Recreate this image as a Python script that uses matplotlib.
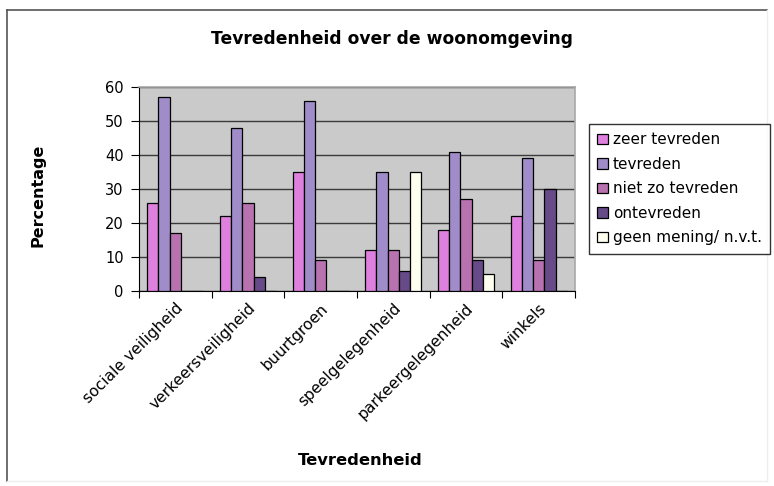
import matplotlib
matplotlib.use("Agg")
import matplotlib.pyplot as plt
from matplotlib.lines import Line2D
import numpy as np

categories = ["sociale veiligheid", "verkeersveiligheid", "buurtgroen",
              "speelgelegenheid", "parkeergelegenheid", "winkels"]
series_names = ["zeer tevreden", "tevreden", "niet zo tevreden",
                "ontevreden", "geen mening/ n.v.t."]
zeer_tevreden = [26, 22, 35, 12, 18, 22]
tevreden = [57, 48, 56, 35, 41, 39]
niet_zo_tevreden = [17, 26, 9, 12, 27, 9]
ontevreden = [0, 4, 0, 6, 9, 30]
geen_mening = [0, 0, 0, 35, 5, 0]
yticks = [0, 10, 20, 30, 40, 50, 60]

series = [zeer_tevreden, tevreden, niet_zo_tevreden, ontevreden, geen_mening]
colors = ["#DE80DE", "#A08CC8", "#B872B0", "#674A88", "#FFFFF0"]

W, H = 774, 486
fig = plt.figure(figsize=(W / 100, H / 100), dpi=100)
fig.patch.set_facecolor("white")

# outer chart border: dark left/top, faint right/bottom
tf = fig.transFigure
fig.add_artist(Line2D([7 / W, 7 / W], [1 - 10 / H, 1 - 481 / H], transform=tf,
                      color="#555555", lw=1.2))
fig.add_artist(Line2D([7 / W, 767 / W], [1 - 10 / H, 1 - 10 / H], transform=tf,
                      color="#555555", lw=1.2))
fig.add_artist(Line2D([767 / W, 767 / W], [1 - 10 / H, 1 - 481 / H], transform=tf,
                      color="#EEEEEE", lw=1.0))
fig.add_artist(Line2D([7 / W, 767 / W], [1 - 481 / H, 1 - 481 / H], transform=tf,
                      color="#EEEEEE", lw=1.0))

ax = fig.add_axes([139 / W, 1 - 291 / H, (575 - 139) / W, (291 - 87) / H])
ax.set_facecolor("#CACACA")

n = len(series)
bw = 0.155
x = np.arange(len(categories)) + 0.5
for j, (vals, c, name) in enumerate(zip(series, colors, series_names)):
    ax.bar(x + (j - (n - 1) / 2) * bw, vals, width=bw, color=c,
           edgecolor="black", linewidth=0.9, label=name, zorder=3)

ax.set_xlim(0, len(categories))
ax.set_ylim(0, 60)
ax.set_yticks(yticks)
ax.set_yticklabels([str(v) for v in yticks], fontsize=10.5)
ax.yaxis.grid(True, color="#3A3A3A", linewidth=1.0, zorder=1)
ax.set_axisbelow(True)

ax.set_xticks(np.arange(len(categories) + 1))
ax.set_xticklabels([])
ax.set_xticks(x, minor=True)
ax.set_xticklabels(categories, minor=True, rotation=45, ha="right",
                   rotation_mode="anchor", fontsize=11.2)
ax.tick_params(axis="x", which="minor", length=0, pad=7)
ax.tick_params(axis="x", which="major", length=5, direction="out", color="black")
ax.tick_params(axis="y", length=6, direction="out", color="black", pad=5)

for s in ["top", "right"]:
    ax.spines[s].set_color("#A8A8A8")
    ax.spines[s].set_linewidth(1.2)
ax.spines["left"].set_color("black")
ax.spines["bottom"].set_color("black")

fig.text(38 / W, 1 - 195 / H, "Percentage", fontsize=11.5, fontweight="bold",
         ha="center", va="center", rotation=90)
fig.text(360 / W, 1 - 460 / H, "Tevredenheid", fontsize=11.8, fontweight="bold",
         ha="center", va="center")
fig.text(392 / W, 1 - 39 / H, "Tevredenheid over de woonomgeving",
         fontsize=12.3, fontweight="bold", ha="center", va="center")

leg = fig.legend(loc="upper left", bbox_to_anchor=(589 / W, 1 - 124 / H),
                 bbox_transform=fig.transFigure, fontsize=11, frameon=True,
                 fancybox=False, edgecolor="black", handlelength=0.7,
                 handleheight=0.7, handletextpad=0.3, labelspacing=0.62,
                 borderpad=0.55, borderaxespad=0)
leg.get_frame().set_linewidth(1.0)

fig.savefig("out.png", dpi=100)
